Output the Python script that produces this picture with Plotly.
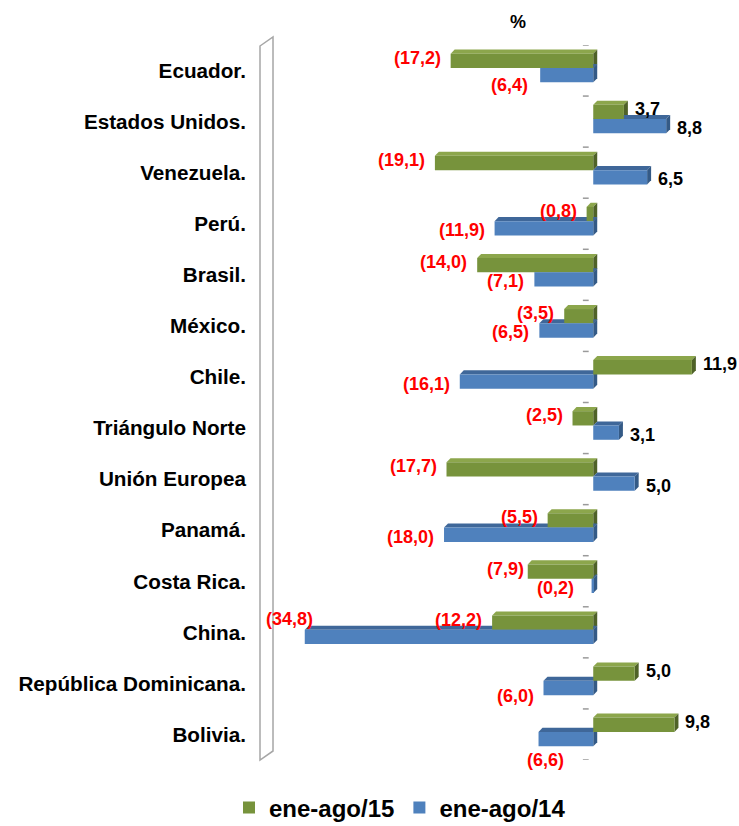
import plotly.graph_objects as go

# Variación porcentual por destino (ene-ago/15 vs ene-ago/14)
categories = ["Ecuador.", "Estados Unidos.", "Venezuela.", "Perú.", "Brasil.", "México.",
              "Chile.", "Triángulo Norte", "Unión Europea", "Panamá.", "Costa Rica.",
              "China.", "República Dominicana.", "Bolivia."]
ene_ago_15 = [-17.2, 3.7, -19.1, -0.8, -14.0, -3.5, 11.9, -2.5, -17.7, -5.5, -7.9, -12.2, 5.0, 9.8]
ene_ago_14 = [-6.4, 8.8, 6.5, -11.9, -7.1, -6.5, -16.1, 3.1, 5.0, -18.0, -0.2, -34.8, -6.0, -6.6]
series_names = ["ene-ago/15", "ene-ago/14"]

FONT = "Liberation Sans, Arial, sans-serif"
X_RANGE = [-40.2, 13.0]
DEPTH_X = 0.48     # depth of the 3D faces, in x units (~4 px)
DEPTH_Y = 0.08     # depth of the 3D faces, in category units (~4 px)

styles = [
    dict(front="#77933C", top="#8CA64C", side="#4F6228", offset=-0.33, width=0.28, dy=3),
    dict(front="#4F81BD", top="#3F6799", side="#345A86", offset=-0.05, width=0.28, dy=-2),
]
# individual label nudges (px): (series, category) -> (xshift, yshift)
label_nudges = {
    (1, 0): (-10, -10),
    (1, 10): (-16, -2),
    (1, 11): (10, 18),
    (1, 12): (-8, -8),
    (1, 13): (27, -21),
    (0, 10): (-2, 3),
}


def fmt(v):
    s = f"{abs(v):.1f}".replace(".", ",")
    return f"({s})" if v < 0 else s


fig = go.Figure()
shapes = []
annotations = []
ypos = list(range(len(categories)))

for k, (name, values) in enumerate(zip(series_names, [ene_ago_15, ene_ago_14])):
    st = styles[k]
    fig.add_trace(go.Bar(
        name=name, x=values, y=ypos, orientation="h",
        offset=st["offset"], width=st["width"],
        marker=dict(color=st["front"], line=dict(width=0)),
        hoverinfo="x+name",
    ))
    for i, v in enumerate(values):
        x0, x1 = min(0, v), max(0, v)
        top = i + st["offset"]
        bot = top + st["width"]
        # top face
        shapes.append(dict(
            type="path", layer="below", xref="x", yref="y", line=dict(width=0),
            fillcolor=st["top"],
            path=f"M{x0},{top} L{x1},{top} L{x1 + DEPTH_X},{top - DEPTH_Y} L{x0 + DEPTH_X},{top - DEPTH_Y} Z"))
        # end face
        shapes.append(dict(
            type="path", layer="below", xref="x", yref="y", line=dict(width=0),
            fillcolor=st["side"],
            path=f"M{x1},{top} L{x1},{bot} L{x1 + DEPTH_X},{bot - DEPTH_Y} L{x1 + DEPTH_X},{top - DEPTH_Y} Z"))
        xs, ys = (-8, st["dy"]) if v < 0 else (9, st["dy"])
        if (k, i) in label_nudges:
            xs, ys = label_nudges[(k, i)]
        annotations.append(dict(
            x=v, y=(top + bot) / 2, xref="x", yref="y", text=fmt(v), showarrow=False,
            xanchor="right" if v < 0 else "left", yanchor="middle",
            xshift=xs, yshift=ys,
            font=dict(family=FONT, size=18, weight="bold",
                      color="#FF0000" if v < 0 else "#000000")))

# small category ticks drawn at the depth of the axis
for b in range(len(categories) + 1):
    shapes.append(dict(type="line", xref="x", yref="y", layer="below",
                       x0=-1.25, x1=-0.55, y0=b - 0.5, y1=b - 0.5,
                       line=dict(color="#9A9A9A", width=1.5)))

# side wall of the 3D plot area
shapes.append(dict(type="path", xref="paper", yref="paper", layer="below",
                   line=dict(color="#A6A6A6", width=1.5), fillcolor="rgba(0,0,0,0)",
                   path="M0,0.9986 L0.0295,1.0112 L0.0295,0.0126 L0,0 Z"))

annotations.append(dict(x=(518 - 260) / 441, y=1.0, xref="paper", yref="paper",
                        yshift=23, text="%", showarrow=False, xanchor="center",
                        yanchor="middle",
                        font=dict(family=FONT, size=18, weight="bold", color="#000")))

fig.update_layout(
    width=739, height=826,
    margin=dict(l=260, r=38, t=45, b=66, autoexpand=False),
    paper_bgcolor="white", plot_bgcolor="white",
    barmode="overlay",
    showlegend=True,
    legend=dict(orientation="h", x=(400 - 260) / 441, xanchor="center",
                y=-0.067, yanchor="middle",
                font=dict(family=FONT, size=24, weight="bold", color="#000"),
                itemwidth=30, traceorder="normal"),
    xaxis=dict(range=X_RANGE, visible=False, fixedrange=True),
    yaxis=dict(range=[len(categories) - 0.5, -0.5], tickvals=ypos, ticktext=categories,
               showgrid=False, zeroline=False, showline=False, ticks="",
               ticklabelstandoff=13,
               tickfont=dict(family=FONT, size=20.7, weight="bold", color="#000")),
    shapes=shapes,
    annotations=annotations,
)

fig.write_html("out.html")
